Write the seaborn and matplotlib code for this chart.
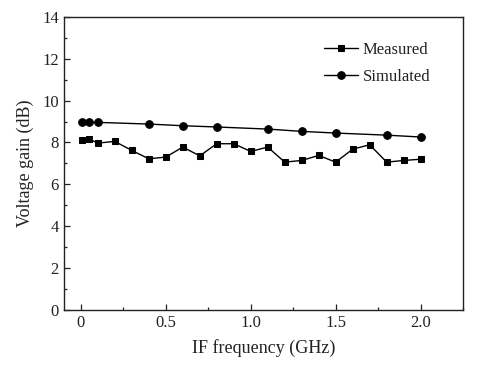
import matplotlib
matplotlib.use("Agg")
import matplotlib.pyplot as plt
import seaborn as sns
import pandas as pd
from matplotlib.ticker import MultipleLocator

sns.set_theme(style="white")
plt.rcParams['font.family'] = ['Liberation Serif', 'DejaVu Serif']
plt.rcParams['mathtext.fontset'] = 'stix'

meas_x = [0.01, 0.05, 0.1, 0.2, 0.3, 0.4, 0.5, 0.6, 0.7, 0.8, 0.9, 1.0, 1.1,
          1.2, 1.3, 1.4, 1.5, 1.6, 1.7, 1.8, 1.9, 2.0]
meas_y = [8.13, 8.16, 7.97, 8.05, 7.62, 7.22, 7.30, 7.78, 7.36, 7.94, 7.94,
          7.57, 7.78, 7.06, 7.14, 7.38, 7.06, 7.68, 7.89, 7.06, 7.14, 7.20]
sim_x = [0.01, 0.05, 0.1, 0.4, 0.6, 0.8, 1.1, 1.3, 1.5, 1.8, 2.0]
sim_y = [8.96, 8.96, 8.96, 8.88, 8.80, 8.74, 8.64, 8.53, 8.45, 8.35, 8.26]

xticks = [0, 0.5, 1.0, 1.5, 2.0]
xticklabels = ["0", "0.5", "1.0", "1.5", "2.0"]
yticks = [0, 2, 4, 6, 8, 10, 12, 14]

df_m = pd.DataFrame({"f": meas_x, "g": meas_y})
df_s = pd.DataFrame({"f": sim_x, "g": sim_y})

fig = plt.figure(figsize=(4.87, 3.68), dpi=100)
ax = fig.add_axes([0.131, 0.158, 0.820, 0.796])

sns.lineplot(data=df_m, x="f", y="g", ax=ax, color="black", marker="s",
             markersize=5, markeredgecolor="black", linewidth=1.0, label="Measured")
sns.lineplot(data=df_s, x="f", y="g", ax=ax, color="black", marker="o",
             markersize=5.5, markeredgecolor="black", linewidth=1.0, label="Simulated")

ax.set_xlim(-0.1, 2.25)
ax.set_ylim(0, 14)
ax.set_xticks(xticks)
ax.set_xticklabels(xticklabels)
ax.set_yticks(yticks)
ax.xaxis.set_minor_locator(MultipleLocator(0.25))
ax.yaxis.set_minor_locator(MultipleLocator(1))
ax.tick_params(which="both", direction="in", bottom=True, left=True, top=False, right=False,
               labelsize=12, colors="#222222", width=0.9)
ax.tick_params(which="major", length=4)
ax.tick_params(which="minor", length=2.5)
for s in ax.spines.values():
    s.set_color("#222222")
    s.set_linewidth(1.0)

ax.set_xlabel("IF frequency (GHz)", fontsize=13, color="#222222", labelpad=6)
ax.set_ylabel("Voltage gain (dB)", fontsize=13, color="#222222", labelpad=6)

leg = ax.legend(loc="upper right", bbox_to_anchor=(0.955, 0.965), frameon=False,
                fontsize=12, handlelength=2.0, handletextpad=0.3, labelspacing=0.65)
for t in leg.get_texts():
    t.set_color("#222222")

fig.savefig("out.png", dpi=100)
